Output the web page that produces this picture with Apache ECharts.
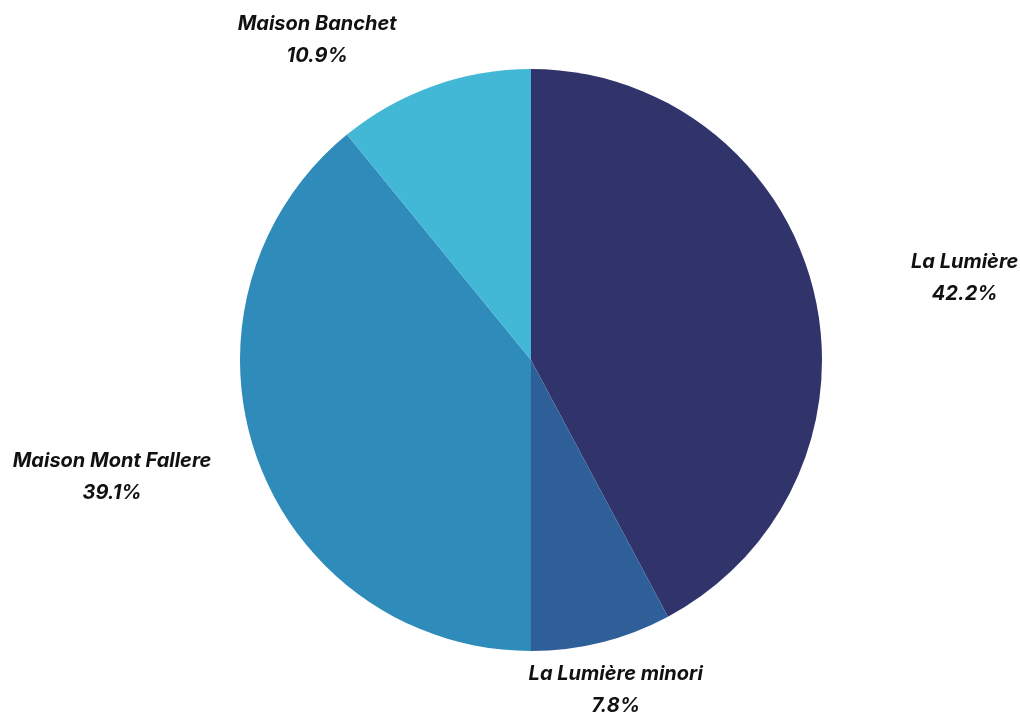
<!DOCTYPE html>
<html>
<head>
<meta charset="utf-8">
<script src="https://cdn.jsdelivr.net/npm/echarts@6/dist/echarts.min.js"></script>
<style>
html,body{margin:0;padding:0;background:#fff;}
#chart{width:1020px;height:715px;}
</style>
</head>
<body>
<div id="chart"></div>
<script>
const categories = ['La Lumière', 'La Lumière minori', 'Maison Mont Fallere', 'Maison Banchet'];
const values = [42.2, 7.8, 39.1, 10.9];
const colors = ['#31346a', '#2f5f98', '#2e8bba', '#42b8d6'];

// label fine placement (px), kept separate from data
const labelDx = [94, -4, -89, -93];
const labelDy = [2, -5, 1, 5];

const chart = echarts.init(document.getElementById('chart'));
chart.setOption({
  animation: false,
  color: colors,
  series: [{
    type: 'pie',
    center: [531, 360],
    radius: [0, 291],
    startAngle: 90,
    clockwise: true,
    avoidLabelOverlap: false,
    data: categories.map((c, i) => ({ name: c, value: values[i] })),
    label: {
      show: true,
      position: 'outside',
      formatter: '{b}\n{c}%',
      color: '#111',
      fontFamily: 'Inter',
      fontStyle: 'italic',
      fontWeight: 'bold',
      fontSize: 20,
      lineHeight: 32
    },
    labelLine: { show: false, length: 54, length2: 0 },
    labelLayout: function (p) {
      return { dx: labelDx[p.dataIndex], dy: labelDy[p.dataIndex], align: 'center' };
    },
    itemStyle: { borderWidth: 0 },
    emphasis: { disabled: true }
  }]
});
</script>
</body>
</html>
